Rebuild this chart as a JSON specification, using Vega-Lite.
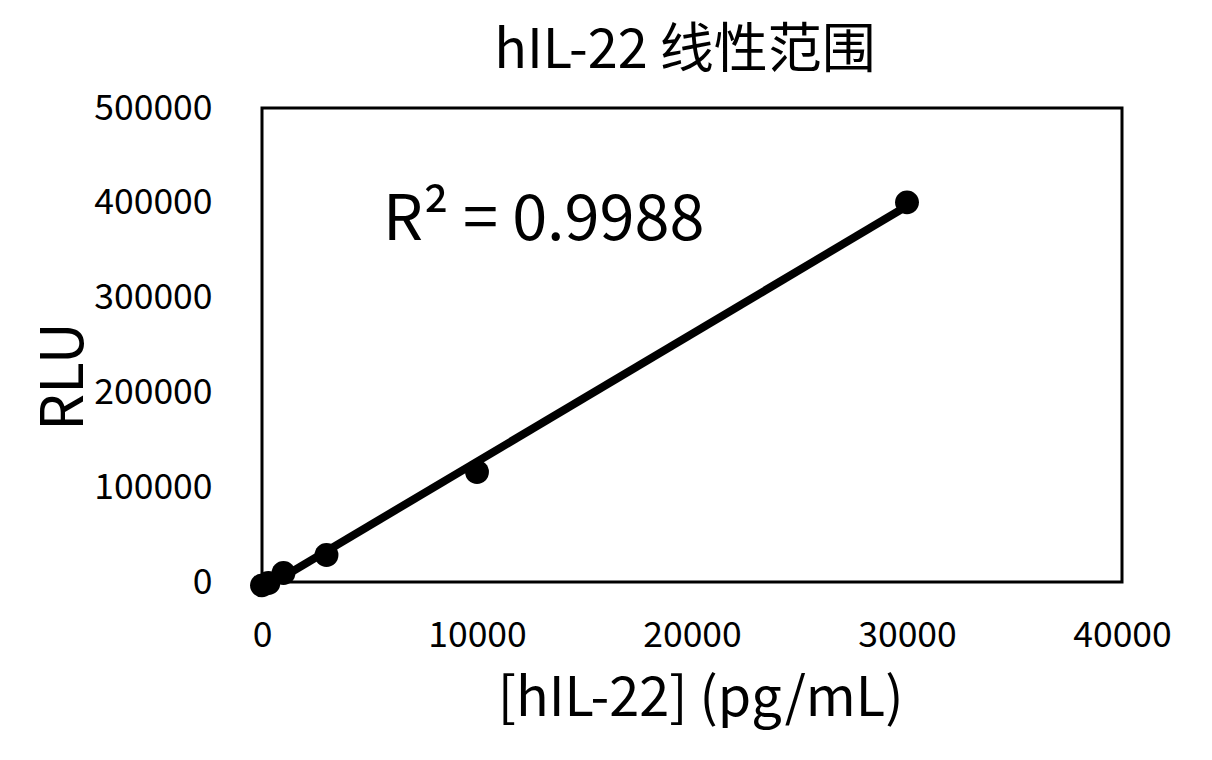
{
  "$schema": "https://vega.github.io/schema/vega-lite/v6.json",
  "autosize": "none",
  "width": 860,
  "height": 474,
  "padding": {"left": 262, "top": 108, "right": 90, "bottom": 178},
  "background": "white",
  "config": {
    "font": "Noto Sans CJK SC",
    "view": {"stroke": "black", "strokeWidth": 3},
    "axis": {"grid": false, "ticks": false, "domain": false, "labelColor": "black", "titleColor": "black", "titleFontWeight": "normal", "labelFont": "Noto Sans CJK SC", "titleFont": "Noto Sans CJK SC", "labelFlush": false, "labelOverlap": false}
  },
  "title": {"text": "hIL-22 线性范围", "fontSize": 54, "fontWeight": "normal", "color": "black", "font": "Noto Sans CJK SC", "frame": "group", "baseline": "alphabetic", "offset": 31, "dy": 62, "dx": -7},
  "data": {"values": [
    {"conc": 0, "rlu": -3500},
    {"conc": 300, "rlu": -1000},
    {"conc": 1000, "rlu": 9500},
    {"conc": 3000, "rlu": 28500},
    {"conc": 10000, "rlu": 116000},
    {"conc": 30000, "rlu": 400500}
  ]},
  "layer": [
    {
      "transform": [{"regression": "rlu", "on": "conc", "method": "linear"}],
      "mark": {"type": "line", "color": "black", "strokeWidth": 8, "clip": false},
      "encoding": {
        "x": {"field": "conc", "type": "quantitative"},
        "y": {"field": "rlu", "type": "quantitative"}
      }
    },
    {
      "mark": {"type": "point", "filled": true, "shape": "circle", "color": "black", "opacity": 1, "size": 570, "clip": false},
      "encoding": {
        "x": {"field": "conc", "type": "quantitative", "scale": {"domain": [0, 40000], "nice": false},
          "axis": {"values": [0, 10000, 20000, 30000, 40000], "format": "d", "labelFontSize": 35.5, "labelPadding": 64, "labelBaseline": "alphabetic",
            "title": "[hIL-22] (pg/mL)", "titleFontSize": 54, "titleBaseline": "alphabetic", "titleY": 133, "titleX": 438}},
        "y": {"field": "rlu", "type": "quantitative", "scale": {"domain": [0, 500000], "nice": false},
          "axis": {"values": [0, 100000, 200000, 300000, 400000, 500000], "format": "d", "labelFontSize": 35.5, "labelPadding": 50,
            "title": "RLU", "titleFontSize": 58, "titleBaseline": "alphabetic", "titleX": -180, "titleY": 268}}
      }
    },
    {
      "data": {"values": [{"conc": 5630, "rlu": 361000, "label": "R² = 0.9988"}]},
      "mark": {"type": "text", "align": "left", "baseline": "alphabetic", "fontSize": 63, "color": "black", "font": "Noto Sans CJK SC"},
      "encoding": {
        "x": {"field": "conc", "type": "quantitative"},
        "y": {"field": "rlu", "type": "quantitative"},
        "text": {"field": "label"}
      }
    }
  ]
}
